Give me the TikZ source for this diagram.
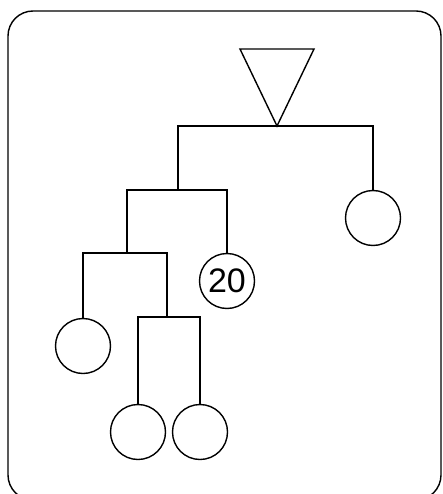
\documentclass[tikz,border=0pt]{standalone}
\usepackage{fontspec}
\setmainfont{Liberation Sans}
\begin{document}
\begin{tikzpicture}[x=1pt,y=-1pt,line width=1.4pt,
    leaf/.style={draw,circle,minimum size=55pt,inner sep=0pt,
      font=\fontsize{34}{34}\selectfont}]
      \useasboundingbox (0,0) rectangle (442,494);
      \draw[rounded corners=25pt] (8,11) rectangle (441,500);

      %%%%%%%%%%%%%%%%%%%%%%%%%%%%%%%%%%%%%%%%%%%%%%%%%%%%%%%%%%%%%%%%%%%%%%%%%%%
      %%%%  Junctions
      \coordinate (top) at (277,126);
      \coordinate (ja) at (178,190);
      \coordinate (jb) at (127,253);
      \coordinate (jc) at (167,317);

      %%%%  Leaves
      \node[leaf] (right) at (373,218) {};
      \node[leaf] (twenty) at (227,281) {20};
      \node[leaf] (left) at (83,346) {};
      \node[leaf] (botl) at (138,432) {};
      \node[leaf] (botr) at (200,432) {};

      %%%%  Triangle
      \draw[line join=miter] (240,49) -- (314,49) -- (top) -- cycle;

      %%%%%%%%%%%%%%%%%%%%%%%%%%%%%%%%%%%%%%%%%%%%%%%%%%%%%%%%%%%%%%%%%%%%%%%%%%%
      \draw (ja) |- (top) -| (right.north);
      \draw (jb) |- (ja) -| (twenty.north);
      \draw (left.north) |- (jb) -| (jc);
      \draw (botl.north) |- (jc) -| (botr.north);
    \end{tikzpicture}
\end{document}
